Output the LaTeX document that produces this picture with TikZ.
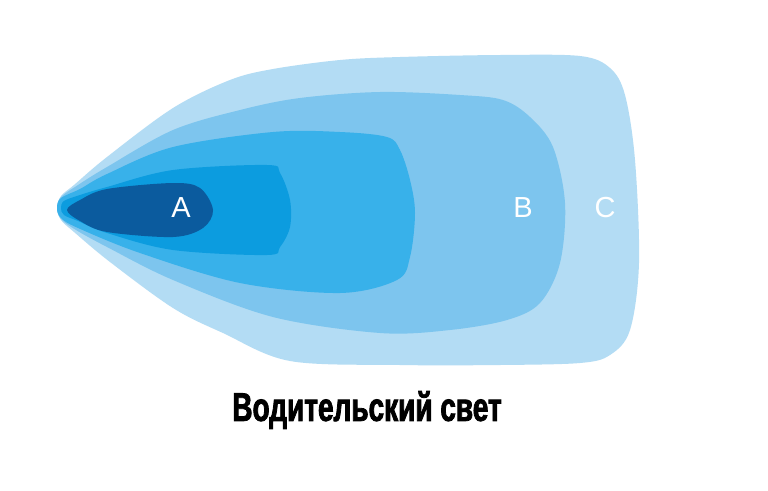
\documentclass[tikz,border=0pt]{standalone}
\usepackage{fontspec}
\setmainfont{Liberation Sans}
\newfontfamily\titlefont[FakeStretch=0.7,FakeBold=2]{Liberation Sans Bold}
\definecolor{cC}{HTML}{B3DCF4}
\definecolor{cB}{HTML}{7DC5EE}
\definecolor{cM}{HTML}{38B1EA}
\definecolor{cI}{HTML}{0C9CDF}
\definecolor{cA}{HTML}{0B5B9E}
\begin{document}
\begin{tikzpicture}[x=1pt,y=-1pt,
  lbl/.style={text=white,font=\fontsize{29}{29}\selectfont,inner sep=0pt}]
\useasboundingbox[fill=white] (0,0) rectangle (768,490);
\fill[cC] plot[smooth cycle,tension=0.55] coordinates {(57,208) (61,196) (74,185) (107,157) (173,108) (230,80) (273,69) (340,60) (400,57) (500,55) (580,56) (610,68) (625,95) (635,160) (639,263) (630,330) (610,355) (580,363) (500,365) (400,365) (290,361) (223,333) (173,308) (110,262) (74,232) (61,220)};
\fill[cB] plot[smooth cycle,tension=0.55] coordinates {(57,208) (61,197) (78,185) (107,167) (173,130) (240,110) (300,98) (380,92) (460,95) (503,100) (530,117) (553,147) (565,203) (560,263) (540,303) (507,320) (450,330) (380,333) (273,317) (173,280) (107,247) (76,230) (61,219)};
\fill[cM] plot[smooth cycle,tension=0.55] coordinates {(57,208) (61,198) (80,189) (107,174) (173,147) (273,132) (340,132) (387,137) (400,150) (410,180) (415,213) (410,257) (397,280) (340,293) (240,283) (140,253) (78,228) (61,218)};
\fill[cI] plot[smooth cycle,tension=0.55] coordinates {(61,208) (64,201) (80,195) (107,187) (173,170) (267,165) (280,173) (290,200) (290,227) (280,247) (267,255) (173,250) (107,233) (78,221) (64,215)};
\fill[cA] plot[smooth cycle,tension=0.55] coordinates {(67,210) (80,200) (107,189) (173,183) (200,188) (213,210) (203,228) (173,237) (107,232) (80,221)};
\node[lbl] (A) at (181,208) {A};
\node[lbl] (B) at (523,208) {B};
\node[lbl] (C) at (605,208) {C};
\node[inner sep=0pt,font=\titlefont\fontsize{40}{40}\selectfont] (T) at (367,410) {Водительский свет};
\end{tikzpicture}
\end{document}
